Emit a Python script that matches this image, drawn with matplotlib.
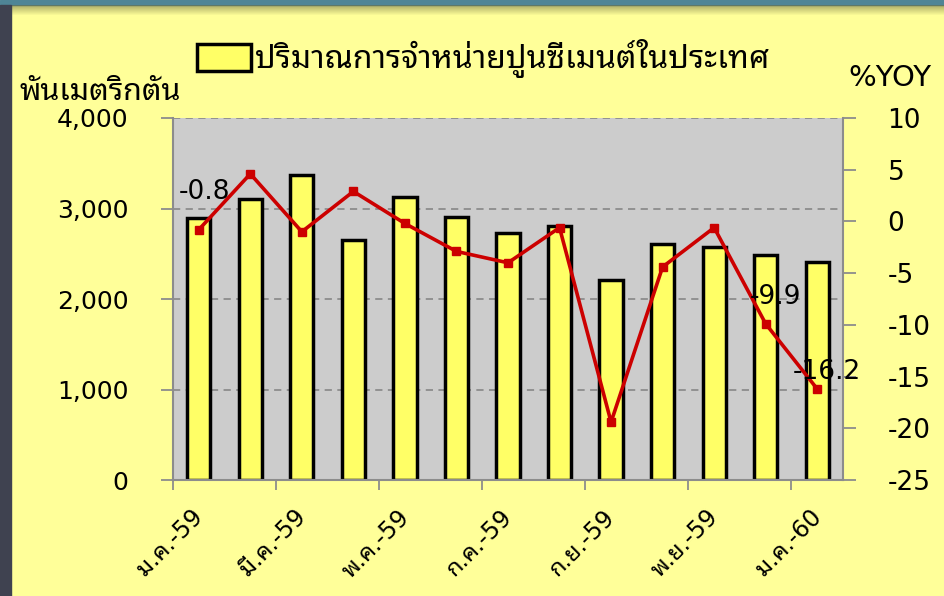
import matplotlib
matplotlib.use("Agg")
import matplotlib.pyplot as plt
from matplotlib.patches import Rectangle
from matplotlib.ticker import FuncFormatter, FixedLocator
from matplotlib.transforms import ScaledTranslation

plt.rcParams["axes.unicode_minus"] = False
plt.rcParams["font.family"] = ["DejaVu Sans", "Noto Sans Thai Looped"]

# data
months = ["ม.ค.-59", "ก.พ.-59", "มี.ค.-59", "เม.ย.-59", "พ.ค.-59", "มิ.ย.-59", "ก.ค.-59",
          "ส.ค.-59", "ก.ย.-59", "ต.ค.-59", "พ.ย.-59", "ธ.ค.-59", "ม.ค.-60"]
volume = [2890, 3105, 3375, 2650, 3125, 2905, 2725, 2805, 2210, 2605, 2580, 2490, 2410]
yoy = [-0.8, 4.6, -1.0, 2.9, -0.2, -2.9, -4.0, -0.6, -19.4, -4.4, -0.6, -9.9, -16.2]

legend_label = "ปริมาณการจำหน่ายปูนซีเมนต์ในประเทศ"
left_label = "พันเมตริกตัน"
right_label = "%YOY"

W, H = 945, 596
fig = plt.figure(figsize=(W / 100, H / 100), dpi=100, facecolor="#FFFF99")

# slide frame: teal strip on top, dark strip on the left
fig.patches.append(Rectangle((0, 1 - 5 / H), 1, 5 / H, transform=fig.transFigure,
                             color="#4F8596", zorder=0))
for i in range(10):
    fig.patches.append(Rectangle((0, 1 - (6 + i) / H), 1, 1 / H, transform=fig.transFigure,
                                 color="#6E6E40", alpha=0.55 * (1 - i / 10), lw=0, zorder=0))
fig.patches.append(Rectangle((0, 0), 11 / W, 1 - 5 / H, transform=fig.transFigure,
                             color="#3F4250", zorder=1))

ax = fig.add_axes([173 / W, 1 - 480 / H, 670 / W, 362 / H])
ax.set_facecolor("#CCCCCC")
x = list(range(len(months)))

bars = ax.bar(x, volume, width=0.45, color="#FFFF66", edgecolor="black", linewidth=2.5,
              label=legend_label)
ax.set_xlim(-0.5, 12.5)
ax.set_ylim(0, 4000)
ax.set_yticks([0, 1000, 2000, 3000, 4000])
ax.yaxis.set_major_formatter(FuncFormatter(lambda v, p: f"{v:,.0f}"))
ax.set_axisbelow(True)
ax.yaxis.grid(True, color="#8C8C8C", linestyle=(0, (4, 3)), linewidth=1.3)
ax.tick_params(axis="y", direction="out", length=9, width=1.3, color="#8C8C8C",
               labelsize=18, pad=23)

ax.set_xticks(x[::2])
ax.set_xticklabels(months[::2], rotation=45, ha="right", va="top", rotation_mode="anchor",
                   fontsize=17)
ax.tick_params(axis="x", which="major", length=0, pad=18)
shift = ScaledTranslation(-8 / 100, 0, fig.dpi_scale_trans)
for lbl in ax.get_xticklabels():
    lbl.set_transform(lbl.get_transform() + shift)
ax.xaxis.set_minor_locator(FixedLocator([-0.5, 1.5, 3.5, 5.5, 7.5, 9.5, 11.5]))
ax.tick_params(axis="x", which="minor", direction="out", length=7, width=1.3, color="#8C8C8C")

for s in ["left", "bottom"]:
    ax.spines[s].set_color("#8C8C8C")
    ax.spines[s].set_linewidth(1.5)
ax.spines["top"].set_visible(False)
ax.spines["right"].set_visible(False)

ax2 = ax.twinx()
ax2.plot(x, yoy, color="#CC0000", linewidth=2.6, marker="s", markersize=5.5)
ax2.set_ylim(-25, 10)
ax2.set_yticks([-25, -20, -15, -10, -5, 0, 5, 10])
ax2.tick_params(axis="y", direction="out", length=9, width=1.3, color="#8C8C8C",
                labelsize=19, pad=23)
for s in ["left", "top", "bottom"]:
    ax2.spines[s].set_visible(False)
ax2.spines["right"].set_color("#8C8C8C")
ax2.spines["right"].set_linewidth(1.5)

# value labels on selected points
for i, off in [(0, (4, 27)), (11, (7, 19)), (12, (7, 12))]:
    ax2.annotate(f"{yoy[i]}", (x[i], yoy[i]), xytext=off, textcoords="offset points",
                 ha="center", va="center", fontsize=19)

fig.legend(handles=[bars], labels=[legend_label], loc="center left",
           bbox_to_anchor=(197 / W, 1 - 59 / H), frameon=False, fontsize=23,
           handlelength=1.7, handleheight=0.95, handletextpad=0.12,
           borderpad=0, borderaxespad=0)

fig.text(20 / W, 1 - 92 / H, left_label, ha="left", va="center", fontsize=22)
fig.text(848 / W, 1 - 78 / H, right_label, ha="left", va="center", fontsize=21)

fig.savefig("out.png", dpi=100, facecolor=fig.get_facecolor())
